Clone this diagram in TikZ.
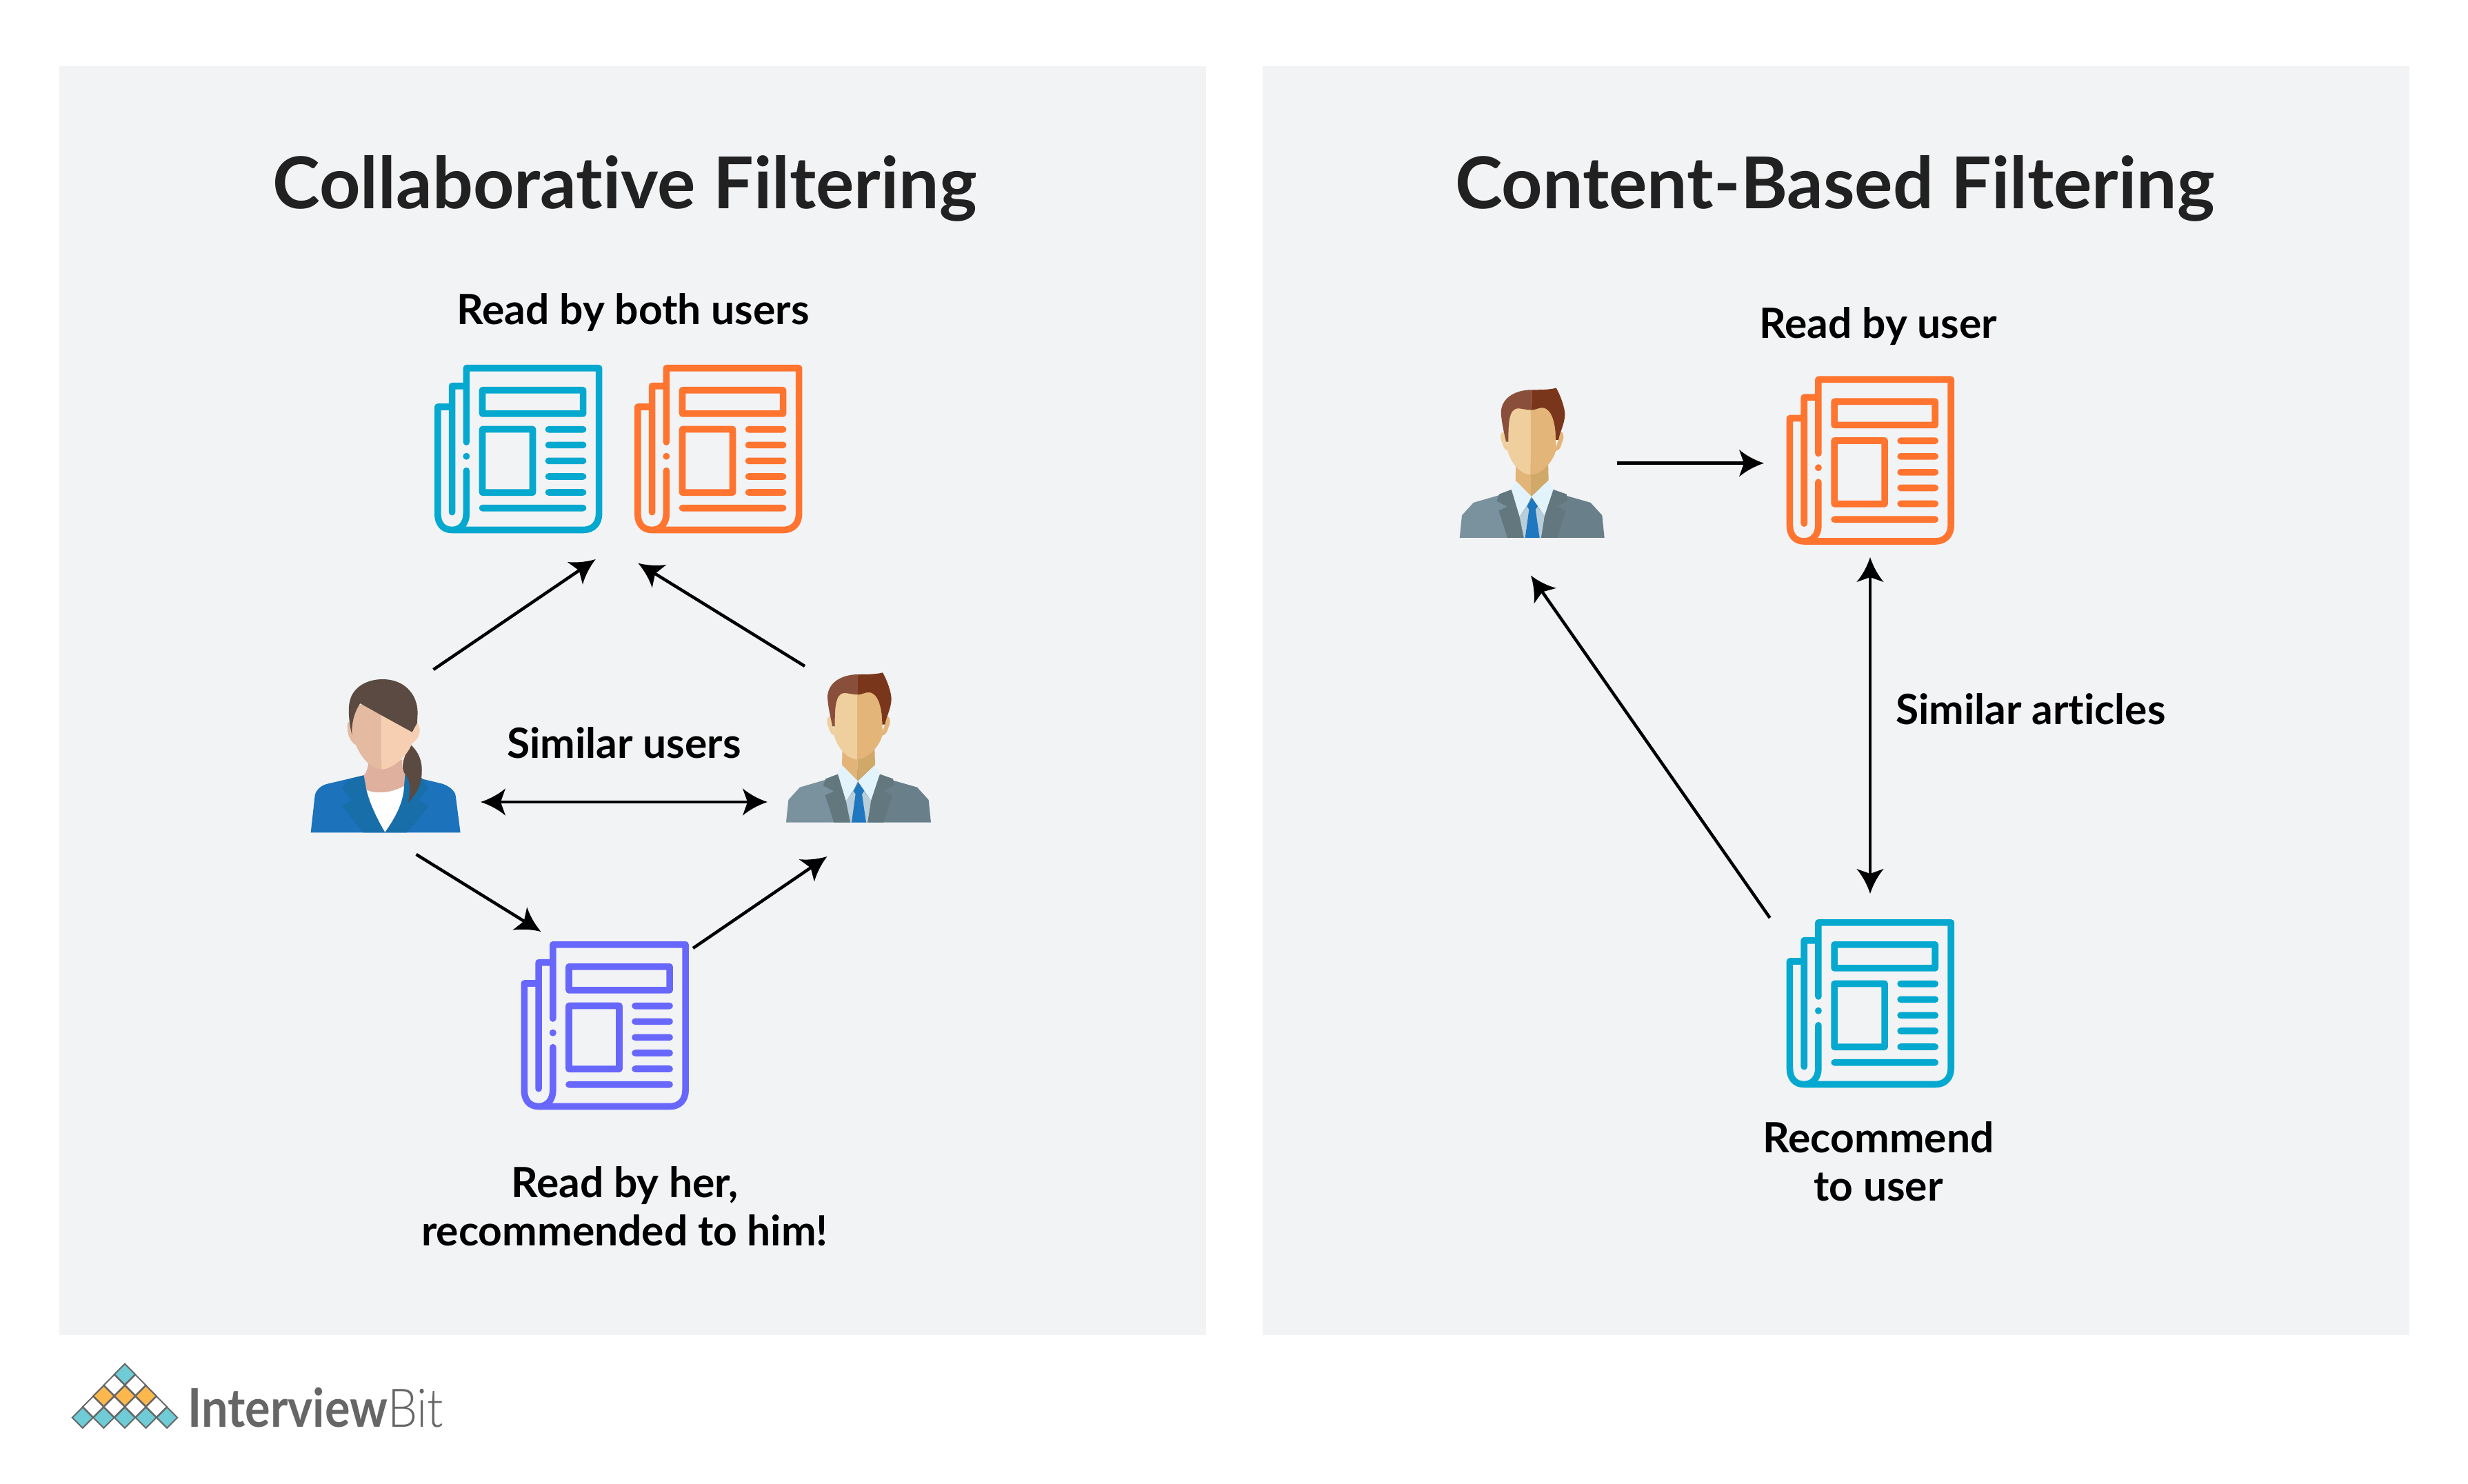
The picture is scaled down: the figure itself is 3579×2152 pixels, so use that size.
\documentclass[tikz,border=0pt]{standalone}
\usepackage{fontspec}
\usepackage{graphicx}
\usepackage{xcolor}
\usepackage{tikz}
\usetikzlibrary{positioning}
\usetikzlibrary{shapes.geometric}
\setmainfont{Lato}[Ligatures=NoCommon]
\newfontfamily\thinlogo{Lato Light}
\definecolor{panelgrey}{HTML}{F2F3F5}
\definecolor{newsblue}{HTML}{05A8CE}
\definecolor{newsorange}{HTML}{FF742F}
\definecolor{newspurple}{HTML}{6867FC}
\definecolor{logogrey}{HTML}{666666}
\definecolor{logoteal}{HTML}{6FCBD6}
\definecolor{logogold}{HTML}{FDB84D}

% arrow head with hollowed sides
\pgfdeclarearrow{
	name=flyer,
	setup code={
		\pgfarrowssettipend{8.25pt}
		\pgfarrowssetlineend{.5pt}
		\pgfarrowssetbackend{-2pt}
		\pgfarrowshullpoint{8.25pt}{0pt}
		\pgfarrowshullpoint{-2pt}{5.6pt}
		\pgfarrowshullpoint{-2pt}{-5.6pt}
	},
	drawing code={
		\pgfpathmoveto{\pgfpoint{8.25pt}{0pt}}
		\pgfpathcurveto{\pgfpoint{4.2pt}{1.3pt}}{\pgfpoint{.6pt}{3.4pt}}{\pgfpoint{-2pt}{5.6pt}}
		\pgfpathlineto{\pgfpoint{0pt}{0pt}}
		\pgfpathlineto{\pgfpoint{-2pt}{-5.6pt}}
		\pgfpathcurveto{\pgfpoint{.6pt}{-3.4pt}}{\pgfpoint{4.2pt}{-1.3pt}}{\pgfpoint{8.25pt}{0pt}}
		\pgfpathclose
		\pgfusepathqfill
	}
}

\tikzset{
	pics/news/.style={code={
		\draw[#1,line width=.096cm,line cap=round,line join=round]
			(46.3,112) -- (46.3,4.8) -- (238.6,4.8) -- (238.6,216) .. controls (238.6,230) and (230,239.5) .. (216,239.5)
			-- (25.6,239.5) .. controls (12,239.5) and (4.8,230) .. (4.8,216) -- (4.8,61) -- (25.6,61)
			(25.6,213.7) -- (25.6,30.7) -- (46.3,30.7)
			(46.3,153.7) -- (46.3,216) .. controls (46.3,230) and (38,239.5) .. (25.6,239.5)
			(69.5,36.8) rectangle (215.6,70.9)
			(69.5,93.5) rectangle (142.5,185.2)
			(165.5,93.7) -- (215.6,93.7)
			(165.5,116.3) -- (215.6,116.3)
			(165.5,139.3) -- (215.6,139.3)
			(165.5,162) -- (215.6,162)
			(165.5,185) -- (215.6,185)
			(69.5,207.7) -- (215.6,207.7);
		\fill[#1] (46.3,132.7) circle (5);
	}},
	pics/man/.style={code={
		\fill[fill=manjacketA] (60,728) -- (70,630) -- (120,575) -- (230,543) -- (372,500) -- (372,728) -- cycle;
		\fill[fill=manjacketB] (690,728) -- (680,630) -- (630,575) -- (525,545) -- (372,500) -- (372,728) -- cycle;
		\fill[fill=manneckA] (305,400) -- (303,480) -- (370,548) -- (370,400) -- cycle;
		\fill[fill=manneckB] (445,400) -- (447,480) -- (370,548) -- (370,400) -- cycle;
		\fill[fill=manshirt] (320,635) -- (355,590) -- (395,590) -- (430,632) -- (415,728) -- (340,728) -- cycle;
		\fill[fill=mancollar] (303,478) -- (285,518) -- (320,635) -- (355,585) -- (372,548) -- cycle;
		\fill[fill=mancollar] (447,478) -- (468,518) -- (430,632) -- (395,585) -- (372,548) -- cycle;
		\fill[fill=mantie] (375,555) -- (400,590) -- (390,605) -- (408,728) -- (345,728) -- (362,605) -- (353,590) -- cycle;
		\fill[fill=manlapel] (285,518) -- (232,538) -- (222,568) -- (268,592) -- (230,610) -- (268,728) -- (338,728) -- (320,635) -- cycle;
		\fill[fill=manlapel] (468,518) -- (525,538) -- (530,565) -- (484,592) -- (523,610) -- (484,728) -- (415,728) -- (430,632) -- cycle;
		\fill[fill=manfaceA] (250,265) .. controls (235,270) and (235,295) .. (245,315) .. controls (250,335) and (258,350) .. (275,350) -- cycle;
		\fill[fill=manfaceB] (500,265) .. controls (515,270) and (515,295) .. (505,315) .. controls (500,335) and (492,350) .. (475,350) -- cycle;
		\fill[fill=manfaceA] (369,150) -- (300,150) .. controls (275,180) and (268,250) .. (268,345) .. controls (280,400) and (325,453) .. (369,453) -- cycle;
		\fill[fill=manfaceB] (369,150) -- (440,150) .. controls (470,180) and (478,250) .. (480,345) .. controls (465,400) and (415,453) .. (369,453) -- cycle;
		\fill[fill=manhairA] (372,84) .. controls (300,85) and (240,120) .. (240,185) .. controls (243,230) and (255,280) .. (262,310) -- (272,310)
			.. controls (272,240) and (272,170) .. (310,165) .. controls (335,165) and (350,172) .. (372,172) -- cycle;
		\fill[fill=manhairB] (372,84) .. controls (410,84) and (450,84) .. (480,76) .. controls (495,100) and (518,160) .. (518,190)
			.. controls (518,230) and (495,270) .. (490,302) -- (478,302) .. controls (478,240) and (465,165) .. (420,162)
			.. controls (400,162) and (390,172) .. (372,172) -- cycle;
	}},
	pics/woman/.style={code={
		\fill[fill=womanjacket] (92,772) -- (110,610) .. controls (115,585) and (140,565) .. (165,560) -- (323,523) -- (500,520) -- (665,560)
			.. controls (695,570) and (718,590) .. (722,610) -- (743,772) -- cycle;
		\fill[fill=womanlapel] (323,523) -- (260,538) -- (228,578) -- (270,630) -- (228,658) -- (320,772) -- (415,772) -- (345,640) -- cycle;
		\fill[fill=womanlapel] (500,520) -- (575,535) -- (603,578) -- (562,630) -- (605,658) -- (510,772) -- (415,772) -- (490,640) -- cycle;
		\fill[fill=womanneck] (342,465) .. controls (342,490) and (335,510) .. (323,523) -- (335,590) .. controls (390,610) and (450,595) .. (498,570) -- (502,520) .. controls (490,505) and (488,480) .. (490,455) -- cycle;
		\fill[fill=white] (335,588) .. controls (390,608) and (450,595) .. (498,570) .. controls (495,650) and (450,720) .. (415,770) .. controls (385,720) and (350,650) .. (335,588) -- cycle;
		\fill[fill=womanfaceA] (255,290) .. controls (245,320) and (255,375) .. (290,392) -- (300,340) -- cycle;
		\fill[fill=womanfaceB] (550,290) .. controls (575,310) and (575,360) .. (525,390) -- (500,340) -- cycle;
		\fill[fill=womanhair] (527,390) .. controls (560,420) and (578,460) .. (575,510) .. controls (575,570) and (545,610) .. (515,642)
			.. controls (528,590) and (525,540) .. (500,515) .. controls (485,490) and (490,450) .. (527,390) -- cycle;
		\fill[fill=womanfaceA] (400,200) -- (290,220) .. controls (265,280) and (270,330) .. (290,395) .. controls (310,440) and (345,490) .. (400,497) -- cycle;
		\fill[fill=womanfaceB] (400,497) .. controls (450,495) and (510,440) .. (530,390) -- (545,300) -- (400,200) -- cycle;
		\fill[fill=womanhair] (272,348) .. controls (255,290) and (255,220) .. (262,200) .. controls (275,140) and (335,105) .. (405,105)
			.. controls (490,105) and (555,160) .. (557,250) -- (555,295) -- (533,335) -- (400,262) -- (307,210) .. controls (280,250) and (268,300) .. (272,348) -- cycle;
	}}
}
\definecolor{manjacketA}{HTML}{7A919E}
\definecolor{manjacketB}{HTML}{69808B}
\definecolor{manlapel}{HTML}{62777E}
\definecolor{manneckA}{HTML}{E2B478}
\definecolor{manneckB}{HTML}{D0A868}
\definecolor{manshirt}{HTML}{B9CEDB}
\definecolor{mancollar}{HTML}{E3F3FC}
\definecolor{mantie}{HTML}{1E77BF}
\definecolor{manfaceA}{HTML}{F0CF9E}
\definecolor{manfaceB}{HTML}{E3B579}
\definecolor{manhairA}{HTML}{8A4F3A}
\definecolor{manhairB}{HTML}{7A361B}
\definecolor{womanjacket}{HTML}{1C72BB}
\definecolor{womanlapel}{HTML}{186EA8}
\definecolor{womanneck}{HTML}{DFB09E}
\definecolor{womanfaceA}{HTML}{E4BAA0}
\definecolor{womanfaceB}{HTML}{F6CFB2}
\definecolor{womanhair}{HTML}{5A4A42}

\begin{document}
\begin{tikzpicture}[x=.01cm,y=-.01cm,>=flyer,line width=.045cm]
	\tikzstyle{panel}=[fill=panelgrey, inner sep=0pt, minimum width=16.62cm, minimum height=18.38cm]
	\tikzstyle{heading}=[anchor=base, text=black!87, font=\fontsize{29.5}{36}\selectfont\bfseries]
	\tikzstyle{caption}=[anchor=base, text=black, align=center, font=\fontsize{17.2}{19.9}\selectfont\bfseries]
	\tikzstyle{tile}=[diamond, draw=logogrey, line width=.02cm, inner sep=0pt, minimum size=.31cm]

	\useasboundingbox (0,0) rectangle (3579,2152);
	\node[panel] (leftpanel) at (917,1016) {};
	\node[panel] (rightpanel) at (2662,1016) {};

	\node[heading] (lefttitle) at (906,303) {Collaborative Filtering};
	\node[heading] (righttitle) at (2661,303) {Content-Based Filtering};

	\node[caption] (bothtext) at (918,470) {Read by both users};
	\node[caption] (simusers) at (905,1099) {Similar users};
	\node[caption,anchor=center] (hertext) at (906,1749) {Read by her,\\recommended to him!};
	\node[caption] (usertext) at (2724,490) {Read by user};
	\node[caption,anchor=base west] (simarticles) at (2735,1050) {Similar articles};
	\node[caption,anchor=center] (rectext) at (2724,1684) {Recommend\\to user};

	\pic at (630,529) {news=newsblue};
	\pic at (920,529) {news=newsorange};
	\pic at (755.5,1365) {news=newspurple};
	\pic at (2590.6,545.5) {news=newsorange};
	\pic at (2590.6,1333) {news=newsblue};
	\pic[scale=.3333] at (420,950) {woman};
	\pic[scale=.3333] at (1120,950) {man};
	\pic[scale=.3333] at (2096.7,537.3) {man};

	% ends of the arrows
	\coordinate (womanup) at (628.5,971);
	\coordinate (blueend) at (863.7,811);
	\coordinate (manup) at (1167,966);
	\coordinate (orangeend) at (925.4,816.7);
	\coordinate (womanside) at (697,1163);
	\coordinate (manside) at (1113,1163);
	\coordinate (womandown) at (603.6,1239);
	\coordinate (purpleend) at (784.5,1351);
	\coordinate (purplestart) at (1005,1375);
	\coordinate (mandown) at (1199.5,1242);
	\coordinate (loneman) at (2344.7,671.7);
	\coordinate (loneorange) at (2558,671.7);
	\coordinate (simtop) at (2712,808);
	\coordinate (simbottom) at (2712,1296);
	\coordinate (recstart) at (2566.6,1331);
	\coordinate (recend) at (2220,834.6);

	\path[draw=black]
		(womanup) edge[->] (blueend)
		(manup) edge[->] (orangeend)
		(womanside) edge[<->] (manside)
		(womandown) edge[->] (purpleend)
		(purplestart) edge[->] (mandown)
		(loneman) edge[->] (loneorange)
		(simtop) edge[<->] (simbottom)
		(recstart) edge[->] (recend)
		;

	% logo
	\node[tile,fill=logoteal] (ta) at (119.8,2055.7) {};
	\node[tile,fill=logoteal] (tb) at (150.4,2055.7) {};
	\node[tile,fill=logoteal] (tc) at (181,2055.7) {};
	\node[tile,fill=logoteal] (td) at (211.6,2055.7) {};
	\node[tile,fill=logoteal] (te) at (242.2,2055.7) {};
	\node[tile,fill=white] (tf) at (135.1,2040) {};
	\node[tile,fill=white] (tg) at (165.7,2040) {};
	\node[tile,fill=white] (th) at (196.3,2040) {};
	\node[tile,fill=white] (ti) at (226.9,2040) {};
	\node[tile,fill=logogold] (tj) at (150.4,2024.3) {};
	\node[tile,fill=logogold] (tk) at (181,2024.3) {};
	\node[tile,fill=logogold] (tl) at (211.6,2024.3) {};
	\node[tile,fill=white] (tm) at (165.7,2008.6) {};
	\node[tile,fill=white] (tn) at (196.3,2008.6) {};
	\node[tile,fill=logoteal] (to) at (181,1992.9) {};
	\node[anchor=base west, inner sep=0pt, text=logogrey, font=\fontsize{22}{26}\selectfont] (logotext) at (270,2069) {\scalebox{.885}[1]{\textbf{Interview}{\thinlogo Bit}}};
\end{tikzpicture}
\end{document}
